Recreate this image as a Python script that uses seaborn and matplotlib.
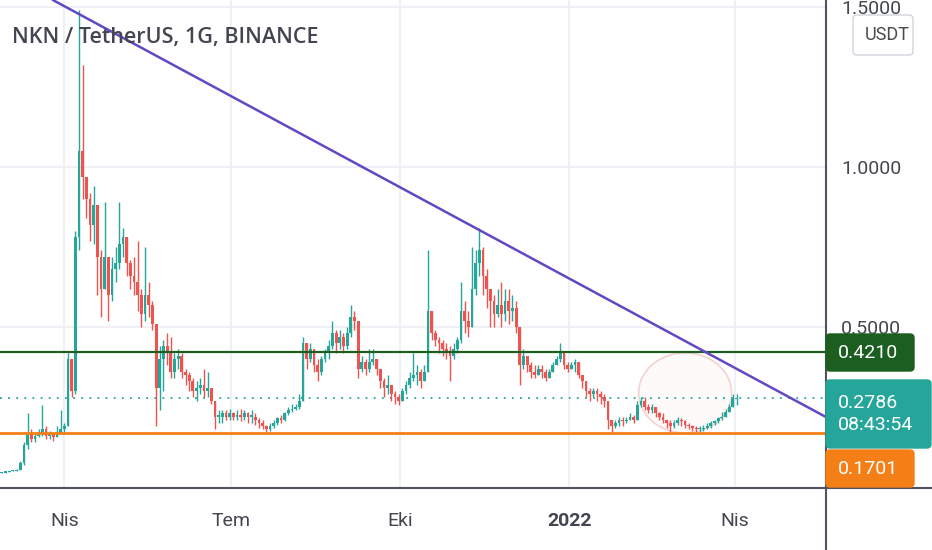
import matplotlib
matplotlib.use("Agg")
import matplotlib.pyplot as plt
import matplotlib.dates as mdates
from matplotlib.patches import Ellipse, FancyBboxPatch
from matplotlib.lines import Line2D
from matplotlib.transforms import IdentityTransform
import numpy as np
import pandas as pd
import seaborn as sns

# NKN / USDT, 2-day candles
start_day = "2021-02-26"
first_open = 0.043

closes = [
    0.045, 0.047, 0.049, 0.050, 0.052, 0.075, 0.130, 0.170, 0.150, 0.160,
    0.170, 0.180, 0.160, 0.165, 0.155, 0.170, 0.180, 0.190, 0.400, 0.300,
    0.780, 1.050, 0.970, 0.900, 0.820, 0.880, 0.720, 0.620, 0.720, 0.600,
    0.680, 0.700, 0.760, 0.780, 0.700, 0.660, 0.640, 0.600, 0.540, 0.600,
    0.570, 0.510, 0.310, 0.400, 0.440, 0.420, 0.360, 0.400, 0.410, 0.360,
    0.350, 0.330, 0.300, 0.310, 0.320, 0.300, 0.310, 0.270, 0.220, 0.220,
    0.230, 0.220, 0.230, 0.220, 0.225, 0.220, 0.230, 0.220, 0.220, 0.210,
    0.200, 0.190, 0.180, 0.190, 0.200, 0.215, 0.210, 0.230, 0.240, 0.245,
    0.250, 0.270, 0.450, 0.400, 0.430, 0.380, 0.360, 0.400, 0.420, 0.440,
    0.480, 0.450, 0.470, 0.440, 0.480, 0.530, 0.520, 0.370, 0.390, 0.370,
    0.390, 0.400, 0.370, 0.330, 0.310, 0.320, 0.290, 0.280, 0.270, 0.300,
    0.320, 0.340, 0.350, 0.360, 0.330, 0.360, 0.550, 0.480, 0.460, 0.450,
    0.430, 0.420, 0.410, 0.430, 0.460, 0.550, 0.520, 0.500, 0.620, 0.700,
    0.740, 0.660, 0.620, 0.580, 0.540, 0.570, 0.540, 0.580, 0.550, 0.560,
    0.500, 0.380, 0.410, 0.380, 0.360, 0.350, 0.370, 0.360, 0.340, 0.360,
    0.380, 0.400, 0.420, 0.380, 0.370, 0.380, 0.390, 0.350, 0.330, 0.300,
    0.290, 0.300, 0.290, 0.280, 0.270, 0.210, 0.190, 0.200, 0.210, 0.205,
    0.210, 0.220, 0.210, 0.255, 0.270, 0.250, 0.240, 0.250, 0.230, 0.220,
    0.210, 0.200, 0.190, 0.200, 0.210, 0.205, 0.195, 0.190, 0.185, 0.180,
    0.182, 0.185, 0.190, 0.200, 0.205, 0.215, 0.220, 0.235, 0.250, 0.275,
    0.2786,
]
highs = [
    0.047, 0.048, 0.050, 0.052, 0.055, 0.080, 0.140, 0.230, 0.180, 0.170,
    0.180, 0.256, 0.190, 0.175, 0.170, 0.190, 0.240, 0.200, 0.420, 0.400,
    0.800, 1.490, 1.320, 0.970, 0.920, 0.940, 0.860, 0.740, 0.890, 0.700,
    0.720, 0.750, 0.890, 0.810, 0.770, 0.710, 0.720, 0.770, 0.620, 0.750,
    0.640, 0.580, 0.510, 0.440, 0.460, 0.480, 0.470, 0.420, 0.430, 0.420,
    0.370, 0.360, 0.340, 0.330, 0.340, 0.370, 0.360, 0.310, 0.270, 0.240,
    0.240, 0.240, 0.245, 0.235, 0.240, 0.245, 0.240, 0.235, 0.240, 0.230,
    0.215, 0.210, 0.195, 0.200, 0.210, 0.220, 0.225, 0.235, 0.250, 0.260,
    0.260, 0.290, 0.470, 0.440, 0.450, 0.430, 0.400, 0.410, 0.430, 0.460,
    0.520, 0.490, 0.490, 0.480, 0.500, 0.570, 0.550, 0.520, 0.410, 0.400,
    0.430, 0.430, 0.400, 0.370, 0.340, 0.350, 0.320, 0.300, 0.290, 0.310,
    0.330, 0.360, 0.420, 0.380, 0.370, 0.380, 0.740, 0.550, 0.490, 0.470,
    0.460, 0.450, 0.440, 0.450, 0.470, 0.640, 0.580, 0.550, 0.750, 0.740,
    0.810, 0.750, 0.680, 0.620, 0.600, 0.620, 0.640, 0.620, 0.620, 0.600,
    0.580, 0.500, 0.430, 0.410, 0.390, 0.380, 0.380, 0.380, 0.370, 0.370,
    0.390, 0.410, 0.450, 0.420, 0.390, 0.390, 0.400, 0.390, 0.350, 0.330,
    0.310, 0.310, 0.310, 0.300, 0.290, 0.270, 0.210, 0.210, 0.220, 0.220,
    0.220, 0.230, 0.225, 0.270, 0.280, 0.280, 0.260, 0.260, 0.250, 0.235,
    0.230, 0.210, 0.210, 0.210, 0.220, 0.215, 0.210, 0.200, 0.195, 0.190,
    0.190, 0.195, 0.200, 0.205, 0.210, 0.220, 0.235, 0.245, 0.260, 0.290,
    0.290,
]
lows = [
    0.043, 0.045, 0.047, 0.049, 0.050, 0.052, 0.070, 0.120, 0.140, 0.140,
    0.155, 0.160, 0.150, 0.150, 0.145, 0.160, 0.170, 0.170, 0.190, 0.280,
    0.290, 0.740, 0.900, 0.840, 0.770, 0.760, 0.600, 0.530, 0.620, 0.520,
    0.580, 0.640, 0.680, 0.720, 0.660, 0.620, 0.600, 0.550, 0.500, 0.520,
    0.530, 0.490, 0.190, 0.240, 0.300, 0.380, 0.340, 0.340, 0.370, 0.340,
    0.320, 0.300, 0.280, 0.270, 0.290, 0.280, 0.280, 0.260, 0.180, 0.200,
    0.200, 0.210, 0.210, 0.210, 0.210, 0.205, 0.210, 0.200, 0.200, 0.195,
    0.185, 0.180, 0.168, 0.175, 0.185, 0.195, 0.200, 0.205, 0.225, 0.235,
    0.240, 0.245, 0.270, 0.370, 0.390, 0.360, 0.330, 0.350, 0.390, 0.400,
    0.430, 0.420, 0.430, 0.420, 0.430, 0.470, 0.490, 0.340, 0.360, 0.350,
    0.360, 0.380, 0.350, 0.310, 0.280, 0.290, 0.270, 0.260, 0.255, 0.270,
    0.290, 0.310, 0.330, 0.320, 0.310, 0.330, 0.360, 0.460, 0.440, 0.420,
    0.410, 0.400, 0.330, 0.400, 0.420, 0.450, 0.480, 0.470, 0.500, 0.600,
    0.660, 0.600, 0.560, 0.500, 0.500, 0.530, 0.500, 0.520, 0.510, 0.520,
    0.480, 0.320, 0.370, 0.360, 0.340, 0.340, 0.350, 0.340, 0.330, 0.340,
    0.360, 0.380, 0.390, 0.370, 0.360, 0.370, 0.360, 0.340, 0.310, 0.280,
    0.270, 0.280, 0.270, 0.260, 0.250, 0.180, 0.170, 0.185, 0.190, 0.190,
    0.200, 0.210, 0.200, 0.210, 0.250, 0.240, 0.230, 0.230, 0.220, 0.210,
    0.200, 0.185, 0.170, 0.185, 0.195, 0.190, 0.185, 0.180, 0.175, 0.172,
    0.172, 0.175, 0.180, 0.185, 0.195, 0.200, 0.210, 0.220, 0.235, 0.250,
    0.255,
]

resistance = 0.4210
support = 0.1701
last_price = 0.2786
countdown = "08:43:54"

# trend line touches the April and November tops
trend_dates = ["2021-04-09", "2021-11-13"]
trend_prices = [1.478, 0.803]

# rounded bottom marked with a circle
circle_date = "2022-03-05"
circle_price = 0.294
circle_days = 50.6
circle_span = 0.25

price_ticks = [0.5, 1.0, 1.5]
price_labels = ["0.5000", "1.0000", "1.5000"]
month_ticks = ["2021-04-01", "2021-07-01", "2021-10-01", "2022-01-01", "2022-04-01"]
month_labels = ["Nis", "Tem", "Eki", "2022", "Nis"]

x_start = "2021-02-25"
x_end_days = 449.7

df = pd.DataFrame({"close": closes, "high": highs, "low": lows})
df["date"] = pd.date_range(start_day, periods=len(df), freq="2D")
df["open"] = df["close"].shift(1).fillna(first_open)
df["high"] = df[["high", "open", "close"]].max(axis=1)
df["low"] = df[["low", "open", "close"]].min(axis=1)
df["up"] = df["close"] >= df["open"]

UP = "#26a69a"
DOWN = "#ef5350"
TEXT = "#434651"
AXIS = "#50535e"

sns.set_theme(style="white")
plt.rcParams["font.family"] = ["Roboto", "DejaVu Sans"]

W, H = 932, 550
fig = plt.figure(figsize=(W / 100, H / 100), dpi=100)
ax = fig.add_axes([0, 1 - 488 / H, 826 / W, 488 / H])

xnum = mdates.date2num(df["date"])
cols = np.where(df["up"], UP, DOWN)

ax.vlines(xnum, df["low"], df["high"], colors=cols, linewidth=1.0, zorder=3)
body = np.maximum((df["close"] - df["open"]).abs(), 0.004)
ax.bar(xnum, body, bottom=df[["open", "close"]].min(axis=1), width=1.5,
       color=cols, linewidth=0, zorder=3)

# circle around the bottom
c = Ellipse((mdates.date2num(pd.Timestamp(circle_date)), circle_price),
            width=circle_days, height=circle_span,
            facecolor="#fffafa", edgecolor="#f3d2d2", linewidth=1.2, zorder=1)
ax.add_patch(c)

# levels
ax.axhline(resistance, color="#1b5e20", linewidth=1.6, zorder=4)
ax.axhline(support, color="#f57f17", linewidth=2.0, zorder=4)
ax.axhline(last_price, color=UP, linewidth=1.3, linestyle=(0, (1, 3.5)), zorder=2)

tx = mdates.date2num(pd.to_datetime(trend_dates))
ax.axline((tx[0], trend_prices[0]), (tx[1], trend_prices[1]),
          color="#6248c2", linewidth=1.8, zorder=5)

x0 = mdates.date2num(pd.Timestamp(x_start))
ax.set_xlim(x0, x0 + x_end_days)
ax.set_ylim(-0.003, 1.522)

ax.set_xticks(mdates.date2num(pd.to_datetime(month_ticks)))
ax.set_xticklabels(month_labels)
ax.set_yticks(price_ticks)
ax.set_yticklabels(price_labels)
ax.yaxis.tick_right()
ax.tick_params(axis="x", length=0, pad=17, labelsize=14, colors=TEXT)
ax.tick_params(axis="y", length=0, pad=11, labelsize=14, colors=TEXT)
for lab in ax.get_xticklabels():
    if lab.get_text() == "2022":
        lab.set_fontweight("bold")

ax.grid(True, color="#eceef3", linewidth=1.2)
sns.despine(ax=ax, left=True, bottom=True, right=True, top=True)

# axis frame lines across the whole figure
fig.add_artist(Line2D([826, 826], [0, H], transform=IdentityTransform(),
                      color=AXIS, linewidth=1.5))
fig.add_artist(Line2D([0, W], [H - 488, H - 488], transform=IdentityTransform(),
                      color=AXIS, linewidth=1.5))

fig.text(12 / W, 1 - 37 / H, "NKN / TetherUS, 1G, BINANCE", fontsize=15.5,
         fontweight="semibold", family=["Open Sans", "DejaVu Sans"],
         color=TEXT, va="center", ha="left")


def tag(x0p, y0p, x1p, y1p, color, text, fc_text="white", ec=None, size=14):
    box = FancyBboxPatch((x0p, H - y1p), x1p - x0p, y1p - y0p,
                         boxstyle="round,pad=0,rounding_size=4",
                         transform=IdentityTransform(), facecolor=color,
                         edgecolor=ec if ec else color, linewidth=1, zorder=10)
    fig.add_artist(box)
    fig.text((x0p + 12) / W, 1 - ((y0p + y1p) / 2) / H, text, fontsize=size,
             color=fc_text, va="center", ha="left", zorder=11,
             linespacing=1.25)


tag(853, 15, 913, 55, "white", "USDT", fc_text="#4a4a4a", ec="#d1d4dc", size=13)
tag(826, 334, 914, 371, "#1b5e20", f"{resistance:.4f}")
tag(826, 380, 931, 448, "#26a69a", f"{last_price:.4f}\n{countdown}")
tag(826, 450, 914, 487, "#f57f17", f"{support:.4f}")

fig.savefig("out.png", dpi=100, facecolor="white")
